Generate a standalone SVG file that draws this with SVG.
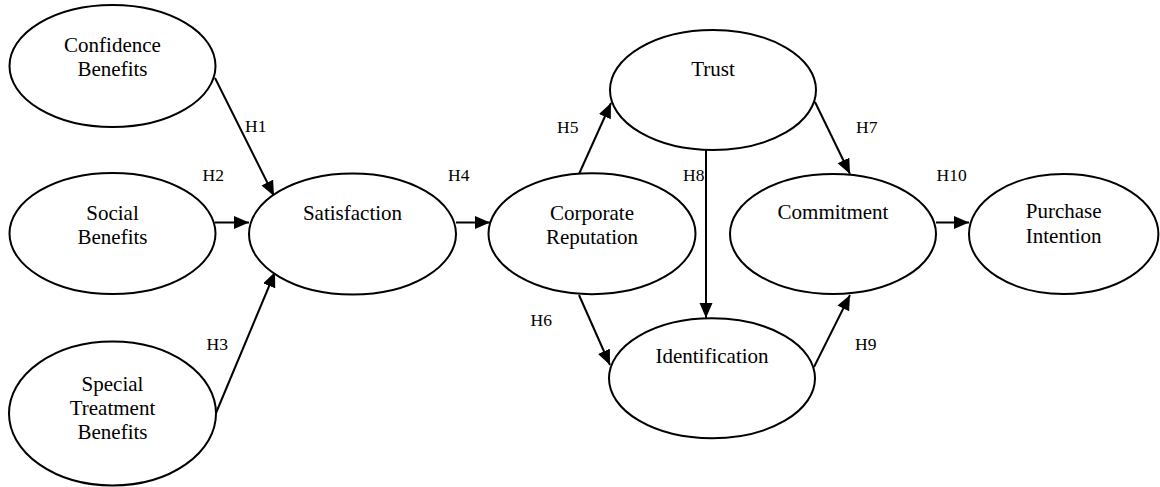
<svg xmlns="http://www.w3.org/2000/svg" width="1160" height="487" viewBox="0 0 1160 487">
<style>
.n{fill:#fff;stroke:#000;stroke-width:2}
.t{font-family:"Liberation Serif","Times New Roman",serif;font-size:21px;fill:#000;text-anchor:middle}
.l{font-family:"Liberation Serif","Times New Roman",serif;font-size:17.5px;fill:#000}
.c{stroke:#000;stroke-width:2;fill:none;marker-end:url(#ah)}
</style>
<defs>
<marker id="ah" markerUnits="userSpaceOnUse" markerWidth="16" markerHeight="14" refX="15" refY="6.5" orient="auto">
<path d="M0,0 L15,6.5 L0,13 z" fill="#000"/>
</marker>
</defs>
<rect width="1160" height="487" fill="#fff"/>
<g id="connectors">
<line class="c" x1="215" y1="78" x2="274" y2="196"/>
<line class="c" x1="215" y1="222.5" x2="249" y2="222.5"/>
<line class="c" x1="216" y1="413" x2="275" y2="272"/>
<line class="c" x1="456" y1="222.5" x2="490" y2="222.5"/>
<line class="c" x1="579" y1="174" x2="611" y2="103"/>
<line class="c" x1="706" y1="150" x2="706" y2="318"/>
<line class="c" x1="579" y1="295" x2="610" y2="365"/>
<line class="c" x1="815" y1="102" x2="850" y2="174"/>
<line class="c" x1="814" y1="367" x2="850" y2="295"/>
<line class="c" x1="936" y1="222.5" x2="969" y2="222.5"/>
</g>
<g id="labels">
<text class="l" x="245" y="132">H1</text>
<text class="l" x="202.5" y="181">H2</text>
<text class="l" x="206.5" y="350">H3</text>
<text class="l" x="448" y="181">H4</text>
<text class="l" x="557" y="133">H5</text>
<text class="l" x="530.5" y="326">H6</text>
<text class="l" x="856" y="133">H7</text>
<text class="l" x="683" y="181">H8</text>
<text class="l" x="855" y="350">H9</text>
<text class="l" x="936.5" y="181">H10</text>
</g>
<g id="confidence">
<ellipse class="n" cx="112.5" cy="66" rx="103" ry="61"/>
<text class="t" x="112.5" y="52">Confidence</text>
<text class="t" x="112.5" y="76">Benefits</text>
</g>
<g id="social">
<ellipse class="n" cx="112.5" cy="233.5" rx="103" ry="60.5"/>
<text class="t" x="112.5" y="220">Social</text>
<text class="t" x="112.5" y="244">Benefits</text>
</g>
<g id="special">
<ellipse class="n" cx="112.5" cy="413.5" rx="103.5" ry="72"/>
<text class="t" x="112.5" y="391">Special</text>
<text class="t" x="112.5" y="415">Treatment</text>
<text class="t" x="112.5" y="439">Benefits</text>
</g>
<g id="satisfaction">
<ellipse class="n" cx="352.5" cy="234" rx="103.5" ry="60.5"/>
<text class="t" x="352.5" y="220">Satisfaction</text>
</g>
<g id="reputation">
<ellipse class="n" cx="592" cy="233.7" rx="103.5" ry="60.5"/>
<text class="t" x="592" y="220">Corporate</text>
<text class="t" x="592" y="244">Reputation</text>
</g>
<g id="trust">
<ellipse class="n" cx="713" cy="90" rx="103" ry="60"/>
<text class="t" x="713" y="76">Trust</text>
</g>
<g id="identification">
<ellipse class="n" cx="712" cy="378.3" rx="103" ry="60"/>
<text class="t" x="712" y="363">Identification</text>
</g>
<g id="commitment">
<ellipse class="n" cx="833" cy="234" rx="103" ry="60"/>
<text class="t" x="833" y="219">Commitment</text>
</g>
<g id="purchase">
<ellipse class="n" cx="1063.7" cy="234" rx="94.7" ry="60"/>
<text class="t" x="1063.7" y="218">Purchase</text>
<text class="t" x="1063.7" y="243">Intention</text>
</g>
</svg>
